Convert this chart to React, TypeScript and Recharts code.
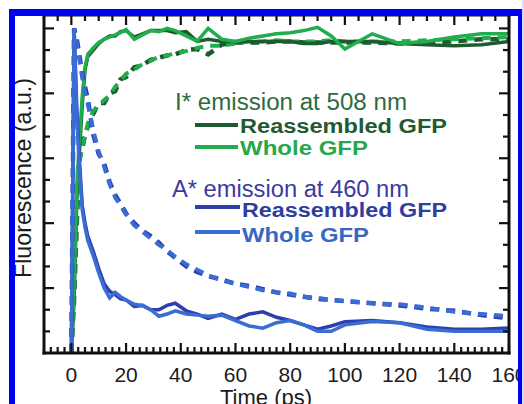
import React from "react";
import { LineChart, Line, XAxis, YAxis } from "recharts";

// time points (ps)
const time = [0, 1, 2, 3, 4, 5, 6, 8, 10, 12, 14, 16, 18, 20, 23, 26, 29, 32, 35, 38, 42, 46, 50, 55, 60, 65, 70, 75, 80, 85, 90, 95, 100, 110, 120, 130, 140, 150, 160];

// I* emission at 508 nm
const iReSolid = [0, 2.5, 7.1, 9.4, 11.5, 13.1, 13.7, 14.0, 14.3, 14.5, 14.65, 14.65, 14.85, 14.9, 14.6, 14.75, 14.9, 14.9, 14.9, 14.8, 14.85, 14.4, 14.5, 14.4, 14.4, 14.4, 14.4, 14.4, 14.4, 14.3, 14.3, 14.4, 14.4, 14.4, 14.3, 14.25, 14.2, 14.25, 14.4];
const iWhSolid = [0, 3.0, 7.8, 9.9, 11.9, 13.2, 13.8, 14.1, 14.35, 14.5, 14.6, 14.7, 14.8, 14.95, 14.5, 14.7, 14.9, 14.85, 15.0, 14.9, 14.65, 14.4, 15.0, 14.5, 14.4, 14.55, 14.65, 14.75, 14.8, 14.9, 15.05, 14.65, 14.05, 14.75, 14.3, 14.4, 14.6, 14.75, 14.75];
const iReDash = [0, 2.5, 6.0, 9.0, 9.45, 10.1, 10.45, 11.05, 11.55, 11.55, 12.0, 12.1, 12.65, 12.75, 13.2, 13.3, 13.55, 13.65, 13.75, 13.8, 14.0, 14.05, 13.8, 14.25, 14.35, 14.35, 14.35, 14.4, 14.4, 14.35, 14.35, 14.35, 14.35, 14.35, 14.3, 14.35, 14.4, 14.5, 14.5];
const iWhDash = [0, 2.8, 6.5, 8.8, 9.6, 10.0, 10.6, 11.2, 11.4, 11.7, 11.9, 12.3, 12.6, 12.9, 13.1, 13.35, 13.5, 13.7, 13.75, 13.85, 13.95, 14.1, 14.2, 14.2, 14.3, 14.4, 14.4, 14.45, 14.4, 14.4, 14.4, 14.45, 14.4, 14.4, 14.4, 14.45, 14.5, 14.55, 14.6];

// A* emission at 460 nm
const aReSolid = [0, 15.0, 11.3, 8.8, 6.8, 6.0, 5.4, 4.7, 3.9, 3.2, 2.85, 2.7, 2.5, 2.45, 2.15, 2.2, 2.0, 2.0, 2.2, 2.3, 1.95, 1.8, 1.6, 1.8, 1.55, 1.8, 1.9, 1.65, 1.5, 1.3, 1.1, 1.25, 1.45, 1.5, 1.4, 1.2, 1.1, 1.1, 1.15];
const aWhSolid = [0, 15.0, 10.8, 8.4, 6.6, 5.8, 5.2, 4.5, 3.7, 3.0, 2.55, 2.8, 2.6, 2.45, 2.25, 2.2, 2.0, 1.7, 1.8, 1.95, 1.8, 1.75, 1.7, 1.75, 1.5, 1.25, 1.15, 1.4, 1.5, 1.3, 1.0, 1.0, 1.3, 1.45, 1.4, 1.1, 1.0, 1.0, 1.0];
const aReDash = [0, 15.0, 14.5, 13.7, 12.9, 12.3, 11.75, 10.1, 9.2, 8.75, 7.9, 7.3, 6.9, 6.45, 6.0, 5.65, 5.4, 5.1, 4.7, 4.4, 4.0, 3.75, 3.55, 3.4, 3.2, 3.1, 2.95, 2.8, 2.7, 2.6, 2.5, 2.45, 2.4, 2.3, 2.2, 2.05, 1.95, 1.75, 1.6];
const aWhDash = [0, 15.0, 14.3, 13.5, 12.7, 12.0, 11.5, 10.3, 9.3, 8.6, 7.8, 7.2, 6.8, 6.4, 5.9, 5.6, 5.3, 5.0, 4.75, 4.45, 4.1, 3.85, 3.6, 3.35, 3.2, 3.05, 2.9, 2.8, 2.75, 2.6, 2.55, 2.45, 2.4, 2.3, 2.25, 2.1, 1.9, 1.8, 1.7];

const xLabelTicks = [0, 20, 40, 60, 80, 100, 120, 140, 160];
const yTicks = [1, 2, 3, 4, 5, 6, 7, 8, 9, 10, 11, 12, 13, 14, 15];

const GREEN_DARK = "#1d5b2f";
const GREEN_LIGHT = "#1fad4d";
const BLUE_DARK = "#2d3fae";
const BLUE_LIGHT = "#3a6dd4";
const FONT = '"Liberation Sans", Arial, Helvetica, sans-serif';

const range = (a: number, b: number, step: number) => {
  const out: number[] = [];
  for (let v = a; v <= b + 1e-9; v += step) out.push(Math.round(v * 100) / 100);
  return out;
};
const bottomTicks = range(-7.5, 160, 2.5);
const topTicks = range(-5, 160, 5);

const rows = time.map((t, i) => ({
  t,
  iReSolid: iReSolid[i],
  iWhSolid: iWhSolid[i],
  iReDash: iReDash[i],
  iWhDash: iWhDash[i],
  aReSolid: aReSolid[i],
  aWhSolid: aWhSolid[i],
  aReDash: aReDash[i],
  aWhDash: aWhDash[i],
}));

const isMajorX = (v: number) => v % 20 === 0;

const BottomTick = (props: any) => {
  const { x, y, payload } = props;
  const major = isMajorX(payload.value);
  return (
    <g>
      <line x1={x} y1={y} x2={x} y2={y - (major ? 10 : 6)} stroke="#111" strokeWidth={2.2} />
      {xLabelTicks.includes(payload.value) && (
        <text x={x} y={y + 29} textAnchor="middle" fontSize={21} fill="#1c1c1c" fontFamily={FONT}>
          {payload.value}
        </text>
      )}
    </g>
  );
};

const TopTick = (props: any) => {
  const { x, y, payload } = props;
  const major = isMajorX(payload.value);
  return <line x1={x} y1={y} x2={x} y2={y + (major ? 10 : 6)} stroke="#111" strokeWidth={2.2} />;
};

const LeftTick = (props: any) => {
  const { x, y, payload } = props;
  const major = payload.value % 3 === 0;
  return <line x1={x} y1={y} x2={x + (major ? 10 : 6)} y2={y} stroke="#111" strokeWidth={2.2} />;
};

const RightTick = (props: any) => {
  const { x, y, payload } = props;
  const major = payload.value % 3 === 0;
  return <line x1={x} y1={y} x2={x - (major ? 10 : 6)} y2={y} stroke="#111" strokeWidth={2.2} />;
};

const axisLine = { stroke: "#111", strokeWidth: 3, strokeLinecap: "square" as const };

export default function App() {
  return (
    <div style={{ position: "absolute", left: 0, top: 0, width: 524, height: 404, background: "#fff", overflow: "hidden", fontFamily: FONT }}>
      <LineChart width={524} height={404} data={rows} margin={{ top: 0, right: 0, bottom: 0, left: 0 }}>
        <XAxis xAxisId="b" dataKey="t" type="number" domain={[-10, 160]} allowDataOverflow ticks={bottomTicks}
          interval={0} height={51} tickSize={0} tickMargin={0} tickLine={false} axisLine={axisLine} tick={BottomTick} />
        <XAxis xAxisId="t" orientation="top" dataKey="t" type="number" domain={[-10, 160]} allowDataOverflow ticks={topTicks}
          interval={0} height={15} tickSize={0} tickMargin={0} tickLine={false} axisLine={axisLine} tick={TopTick} />
        <YAxis yAxisId="l" type="number" domain={[0, 15.62]} allowDataOverflow ticks={yTicks} interval={0}
          width={44} tickSize={0} tickMargin={0} tickLine={false} axisLine={axisLine} tick={LeftTick} />
        <YAxis yAxisId="r" orientation="right" type="number" domain={[0, 15.62]} allowDataOverflow ticks={yTicks} interval={0}
          width={15} tickSize={0} tickMargin={0} tickLine={false} axisLine={axisLine} tick={RightTick} />

        <Line xAxisId="b" yAxisId="l" type="linear" dataKey="iReDash" stroke={GREEN_DARK} strokeWidth={4.5} strokeDasharray="9 7" dot={false} isAnimationActive={false} />
        <Line xAxisId="b" yAxisId="l" type="linear" dataKey="iWhDash" stroke={GREEN_LIGHT} strokeWidth={4} strokeDasharray="9 7" dot={false} isAnimationActive={false} />
        <Line xAxisId="b" yAxisId="l" type="linear" dataKey="iReSolid" stroke={GREEN_DARK} strokeWidth={3.5} dot={false} isAnimationActive={false} />
        <Line xAxisId="b" yAxisId="l" type="linear" dataKey="iWhSolid" stroke={GREEN_LIGHT} strokeWidth={3.5} dot={false} isAnimationActive={false} />
        <Line xAxisId="b" yAxisId="l" type="linear" dataKey="aReDash" stroke={BLUE_DARK} strokeWidth={4.5} strokeDasharray="9 7" dot={false} isAnimationActive={false} />
        <Line xAxisId="b" yAxisId="l" type="linear" dataKey="aWhDash" stroke={BLUE_LIGHT} strokeWidth={4} strokeDasharray="9 7" dot={false} isAnimationActive={false} />
        <Line xAxisId="b" yAxisId="l" type="linear" dataKey="aReSolid" stroke={BLUE_DARK} strokeWidth={3.5} dot={false} isAnimationActive={false} />
        <Line xAxisId="b" yAxisId="l" type="linear" dataKey="aWhSolid" stroke={BLUE_LIGHT} strokeWidth={3.5} dot={false} isAnimationActive={false} />
      </LineChart>

      <svg width={524} height={404} style={{ position: "absolute", left: 0, top: 0, pointerEvents: "none" }} fontFamily={FONT}>
        <text x={175} y={110} fontSize={23} fill="#2e6b3e" textLength={232} lengthAdjust="spacingAndGlyphs">I* emission at 508 nm</text>
        <line x1={195} x2={238} y1={125} y2={125} stroke={GREEN_DARK} strokeWidth={4} />
        <text x={240} y={133} fontSize={20} fontWeight="bold" fill="#1f5a31" textLength={207} lengthAdjust="spacingAndGlyphs">Reassembled GFP</text>
        <line x1={195} x2={238} y1={147} y2={147} stroke={GREEN_LIGHT} strokeWidth={4} />
        <text x={240} y={155} fontSize={20} fontWeight="bold" fill="#27a84b" textLength={128} lengthAdjust="spacingAndGlyphs">Whole GFP</text>

        <text x={172} y={197} fontSize={23} fill="#3c3a9f" textLength={237} lengthAdjust="spacingAndGlyphs">A* emission at 460 nm</text>
        <line x1={195} x2={240} y1={207} y2={207} stroke={BLUE_DARK} strokeWidth={4} />
        <text x={242} y={217} fontSize={20} fontWeight="bold" fill="#2f3d9e" textLength={205} lengthAdjust="spacingAndGlyphs">Reassembled GFP</text>
        <line x1={195} x2={240} y1={232} y2={232} stroke={BLUE_LIGHT} strokeWidth={4} />
        <text x={242} y={242} fontSize={20} fontWeight="bold" fill="#3767c4" textLength={127} lengthAdjust="spacingAndGlyphs">Whole GFP</text>

        <text x={266} y={405} fontSize={22} fill="#1c1c1c" textAnchor="middle">Time (ps)</text>
        <text x={31} y={178} fontSize={23} fill="#1c1c1c" textAnchor="middle" transform="rotate(-90 31 178)"
          textLength={200} lengthAdjust="spacingAndGlyphs">Fluorescence (a.u.)</text>
      </svg>

      <div style={{ position: "absolute", left: 522, top: 0, width: 2, height: 404, background: "#d9dcff" }} />
      <div style={{ position: "absolute", left: 9, top: 9, width: 513, height: 400, boxSizing: "border-box",
        borderTop: "7px solid #0000f2", borderLeft: "6px solid #0000f2", borderRight: "4px solid #0000f2", borderBottom: "5px solid #0000f2",
        pointerEvents: "none" }} />
    </div>
  );
}
